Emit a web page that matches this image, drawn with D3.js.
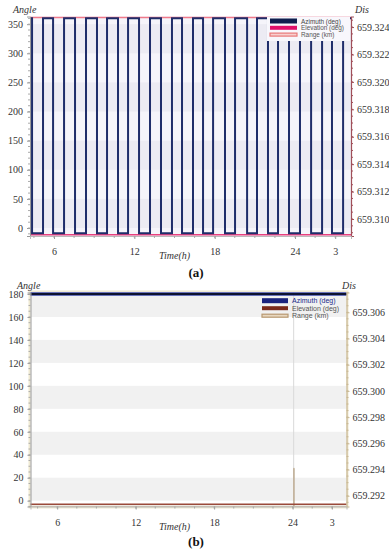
<!DOCTYPE html>
<html><head><meta charset="utf-8">
<script src="https://cdn.jsdelivr.net/npm/d3@7"></script>
<style>
body{margin:0;background:#fff;}
svg{display:block;}
</style></head>
<body><svg id="c" width="389" height="550"></svg>
<script>
// ---------- data ----------
const xTickValues = [6, 12, 18, 24, 27];
const xTickLabels = ["6", "12", "18", "24", "3"];
const seriesNames = ["Azimuth (deg)", "Elevation (deg)", "Range (km)"];

// panel (a)
const azTimesA = [4.21, 4.36, 5.18, 5.93, 6.75, 7.57, 8.39, 9.21, 9.96, 10.78, 11.53, 12.35, 13.17, 13.99, 14.81, 15.56, 16.38, 17.13, 17.88, 18.77, 19.52, 20.42, 21.16, 21.98, 22.73, 23.55, 24.37, 25.20, 26.02, 26.76, 27.59, 28.18];
const azValuesA = [360, -9, 360, -9, 360, -9, 360, -9, 360, -9, 360, -9, 360, -9, 360, -9, 360, -9, 360, -9, 360, -9, 360, -9, 360, -9, 360, -9, 360, -9, 360, 360];
const elTimesA = [4.21, 28.18];
const elValuesA = [-11.5, -11.5];
const rgTimesA = [4.21, 28.18];
const rgValuesA = [659.3247, 659.3247];
const leftTicksA = [0, 50, 100, 150, 200, 250, 300, 350];
const rightTicksA = [659.310, 659.312, 659.314, 659.316, 659.318, 659.320, 659.322, 659.324];

// panel (b)
const azTimesB = [3.96, 28.12];
const azValuesB = [180, 180];
const elTimesB = [3.96, 28.12];
const elValuesB = [-3.1, -3.1];
const rgTimesB = [3.96, 24.08, 24.08, 24.12, 24.12, 28.12];
const rgValuesB = [659.2912, 659.2912, 659.2941, 659.2941, 659.2912, 659.2912];
const leftTicksB = [0, 20, 40, 60, 80, 100, 120, 140, 160, 180];
const rightTicksB = [659.292, 659.294, 659.296, 659.298, 659.300, 659.302, 659.304, 659.306];

// ---------- drawing ----------
const svg = d3.select("#c");
const serif = '"Liberation Serif", "Times New Roman", serif';
const sans = '"Liberation Sans", Arial, sans-serif';

function panel(cfg) {
  const g = svg.append("g");
  const x = d3.scaleLinear().domain(cfg.xDom).range([cfg.left, cfg.right]);
  const yL = d3.scaleLinear().domain(cfg.yLDom).range([cfg.bottom, cfg.top]);
  const yR = d3.scaleLinear().domain(cfg.yRDom).range([cfg.bottom, cfg.top]);

  g.append("rect").attr("x", cfg.left).attr("y", cfg.top)
    .attr("width", cfg.right - cfg.left).attr("height", cfg.bottom - cfg.top)
    .attr("fill", cfg.bg);
  cfg.bands.forEach(b => {
    const y0 = Math.max(cfg.top, yL(b[1])), y1 = Math.min(cfg.bottom, yL(b[0]));
    g.append("rect").attr("x", cfg.left).attr("y", y0)
      .attr("width", cfg.right - cfg.left).attr("height", y1 - y0)
      .attr("fill", cfg.bandColor);
  });
  if (cfg.frame) {
    g.append("rect").attr("x", cfg.left - 1).attr("y", cfg.top - 1)
      .attr("width", cfg.right - cfg.left + 2).attr("height", cfg.bottom - cfg.top + 2)
      .attr("fill", "none").attr("stroke", cfg.frame).attr("stroke-width", 2);
  }
  if (cfg.vgrid) {
    cfg.vgrid.forEach(t => g.append("line").attr("x1", x(t)).attr("x2", x(t))
      .attr("y1", cfg.top).attr("y2", cfg.bottom).attr("stroke", "#dadada").attr("stroke-width", 1));
  }

  const line = (sy, curve) => d3.line().x(d => x(d[0])).y(d => sy(d[1])).curve(curve || d3.curveLinear);
  g.append("path").datum(cfg.rgT.map((t, i) => [t, cfg.rgV[i]]))
    .attr("d", line(yR)).attr("fill", "none").attr("stroke", cfg.rgColor).attr("stroke-width", cfg.rgW);
  g.append("path").datum(cfg.elT.map((t, i) => [t, cfg.elV[i]]))
    .attr("d", line(yL)).attr("fill", "none").attr("stroke", cfg.elColor).attr("stroke-width", 1.6);
  if (cfg.azUnder) {
    g.append("path").datum(cfg.azT.map((t, i) => [t, cfg.azV[i]]))
      .attr("d", line(yL, d3.curveStepAfter)).attr("fill", "none").attr("stroke", cfg.azUnder).attr("stroke-width", cfg.azW + 1.2);
  }
  g.append("path").datum(cfg.azT.map((t, i) => [t, cfg.azV[i]]))
    .attr("d", line(yL, d3.curveStepAfter)).attr("fill", "none").attr("stroke", cfg.azColor)
    .attr("stroke-width", cfg.azW).attr("stroke-linejoin", "miter");

  const axL = d3.axisLeft(yL).tickValues(cfg.lTicks).tickSize(3).tickPadding(4);
  const gL = g.append("g").attr("transform", `translate(${cfg.left},0)`).call(axL);
  const axR = d3.axisRight(yR).tickValues(cfg.rTicks).tickSize(3).tickPadding(3).tickFormat(d3.format(".3f"));
  const gR = g.append("g").attr("transform", `translate(${cfg.right},0)`).call(axR);
  const axB = d3.axisBottom(x).tickValues(xTickValues).tickSize(3).tickPadding(9)
    .tickFormat((d, i) => xTickLabels[i]);
  const gB = g.append("g").attr("transform", `translate(0,${cfg.bottom})`).call(axB);
  [gL, gR, gB].forEach(a => {
    a.attr("font-family", null).attr("font-size", null);
    a.selectAll("text").style("font-family", serif).style("font-size", "10px").attr("fill", "#333");
    a.selectAll(".tick line").attr("stroke", "#999");
  });
  gL.select(".domain").attr("stroke", "#999");
  gB.select(".domain").attr("stroke", "#bbb");
  gR.select(".domain").attr("stroke", cfg.rAxisColor).attr("stroke-width", 1.2);
  gR.selectAll(".tick line").attr("stroke", cfg.rAxisColor);

  const minorL = d3.range(cfg.yLDom[0] - (cfg.yLDom[0] % cfg.lMinor), cfg.yLDom[1], cfg.lMinor).filter(v => v >= cfg.yLDom[0]);
  g.selectAll(null).data(minorL).enter().append("line")
    .attr("x1", cfg.left - 2).attr("x2", cfg.left).attr("y1", d => yL(d)).attr("y2", d => yL(d)).attr("stroke", "#aaa");
  const minorR = d3.range(Math.ceil(cfg.yRDom[0] / 0.0005) * 0.0005, cfg.yRDom[1], 0.0005);
  g.selectAll(null).data(minorR).enter().append("line")
    .attr("x1", cfg.right).attr("x2", cfg.right + 2).attr("y1", d => yR(d)).attr("y2", d => yR(d)).attr("stroke", cfg.rAxisColor);
  const minorX = d3.range(4.5, cfg.xDom[1], 1.5);
  g.selectAll(null).data(minorX).enter().append("line")
    .attr("x1", d => x(d)).attr("x2", d => x(d)).attr("y1", cfg.bottom).attr("y2", cfg.bottom + 2).attr("stroke", "#aaa");

  const txt = (xx, yy, s) => g.append("text").attr("x", xx).attr("y", yy).text(s)
    .style("font-family", serif).style("font-style", "italic").style("font-size", "10px").attr("fill", "#333");
  txt(cfg.angleX, cfg.top - 4, "Angle");
  txt(cfg.disX, cfg.top - 4, "Dis");
  txt(159, cfg.bottom + 23, "Time(h)");
  g.append("text").attr("x", 196).attr("y", cfg.bottom + cfg.capDy).attr("text-anchor", "middle")
    .style("font-family", serif).style("font-weight", "bold").style("font-size", "13px").attr("fill", "#111").text(cfg.caption);

  const lg = g.append("g");
  if (cfg.legendBg) {
    lg.append("rect").attr("x", cfg.legX - 3).attr("y", cfg.top + 0.5).attr("width", cfg.right - cfg.legX + 2).attr("height", 24).attr("fill", cfg.legendBg);
  }
  seriesNames.forEach((name, i) => {
    const yy = cfg.legY + i * cfg.legStep;
    const sw = cfg.swatches[i];
    lg.append("rect").attr("x", cfg.legX).attr("y", yy - sw.h / 2).attr("width", cfg.legW).attr("height", sw.h)
      .attr("fill", sw.fill).attr("stroke", sw.stroke || "none").attr("stroke-width", sw.stroke ? 1.2 : 0);
    lg.append("text").attr("x", cfg.legX + cfg.legW + 4).attr("y", yy + 2.5).text(name)
      .style("font-family", sans).style("font-size", cfg.legFont + "px").attr("fill", i === 0 ? cfg.legFirstColor : "#555");
  });
}

panel({
  left: 30, right: 351, top: 16.5, bottom: 236,
  xDom: [4.207, 28.18], yLDom: [-13.7, 363.2], yRDom: [659.30876, 659.32477],
  bg: "#f5f4fa", bands: [[0, 50], [100, 150], [200, 250], [300, 350]], bandColor: "#ecebf3",
  azT: azTimesA, azV: azValuesA, azColor: "#1f2d6a", azW: 2,
  elT: elTimesA, elV: elValuesA, elColor: "#e8407e",
  rgT: rgTimesA, rgV: rgValuesA, rgColor: "#f07a8a", rgW: 1.4,
  lTicks: leftTicksA, rTicks: rightTicksA, lMinor: 10, rAxisColor: "#a0505a",
  angleX: 13, disX: 355, caption: "(a)", capDy: 41,
  legX: 270, legY: 21, legStep: 6.8, legW: 27, legFont: 6.4, legFirstColor: "#444", legendBg: "#f8f7fc",
  swatches: [{ h: 5, fill: "#0f1f4f" }, { h: 4, fill: "#e0106a" }, { h: 3, fill: "#f8d0d0", stroke: "#e87878" }]
});

panel({
  left: 30.5, right: 346.5, top: 292.5, bottom: 506.5,
  xDom: [3.96, 28.12], yLDom: [-5.05, 181.3], yRDom: [659.29118, 659.30751],
  bg: "#ffffff", bands: [[0, 20], [40, 60], [80, 100], [120, 140], [160, 180]], bandColor: "#f1f1f1",
  frame: "#efe9d2", vgrid: [24.08],
  azT: azTimesB, azV: azValuesB, azColor: "#0d1230", azUnder: "#3a48a8", azW: 2.2,
  elT: elTimesB, elV: elValuesB, elColor: "#9a4a3a",
  rgT: rgTimesB, rgV: rgValuesB, rgColor: "#c0b098", rgW: 1,
  lTicks: leftTicksB, rTicks: rightTicksB, lMinor: 5, rAxisColor: "#c9b894",
  angleX: 17, disX: 342, caption: "(b)", capDy: 39,
  legX: 262, legY: 300.7, legStep: 7.5, legW: 26, legFont: 7, legFirstColor: "#1a2a8a",
  swatches: [{ h: 5, fill: "#1a237e" }, { h: 4, fill: "#7a2a1a" }, { h: 3, fill: "#e8d8c0", stroke: "#b89870" }]
});
</script>
</body></html>
